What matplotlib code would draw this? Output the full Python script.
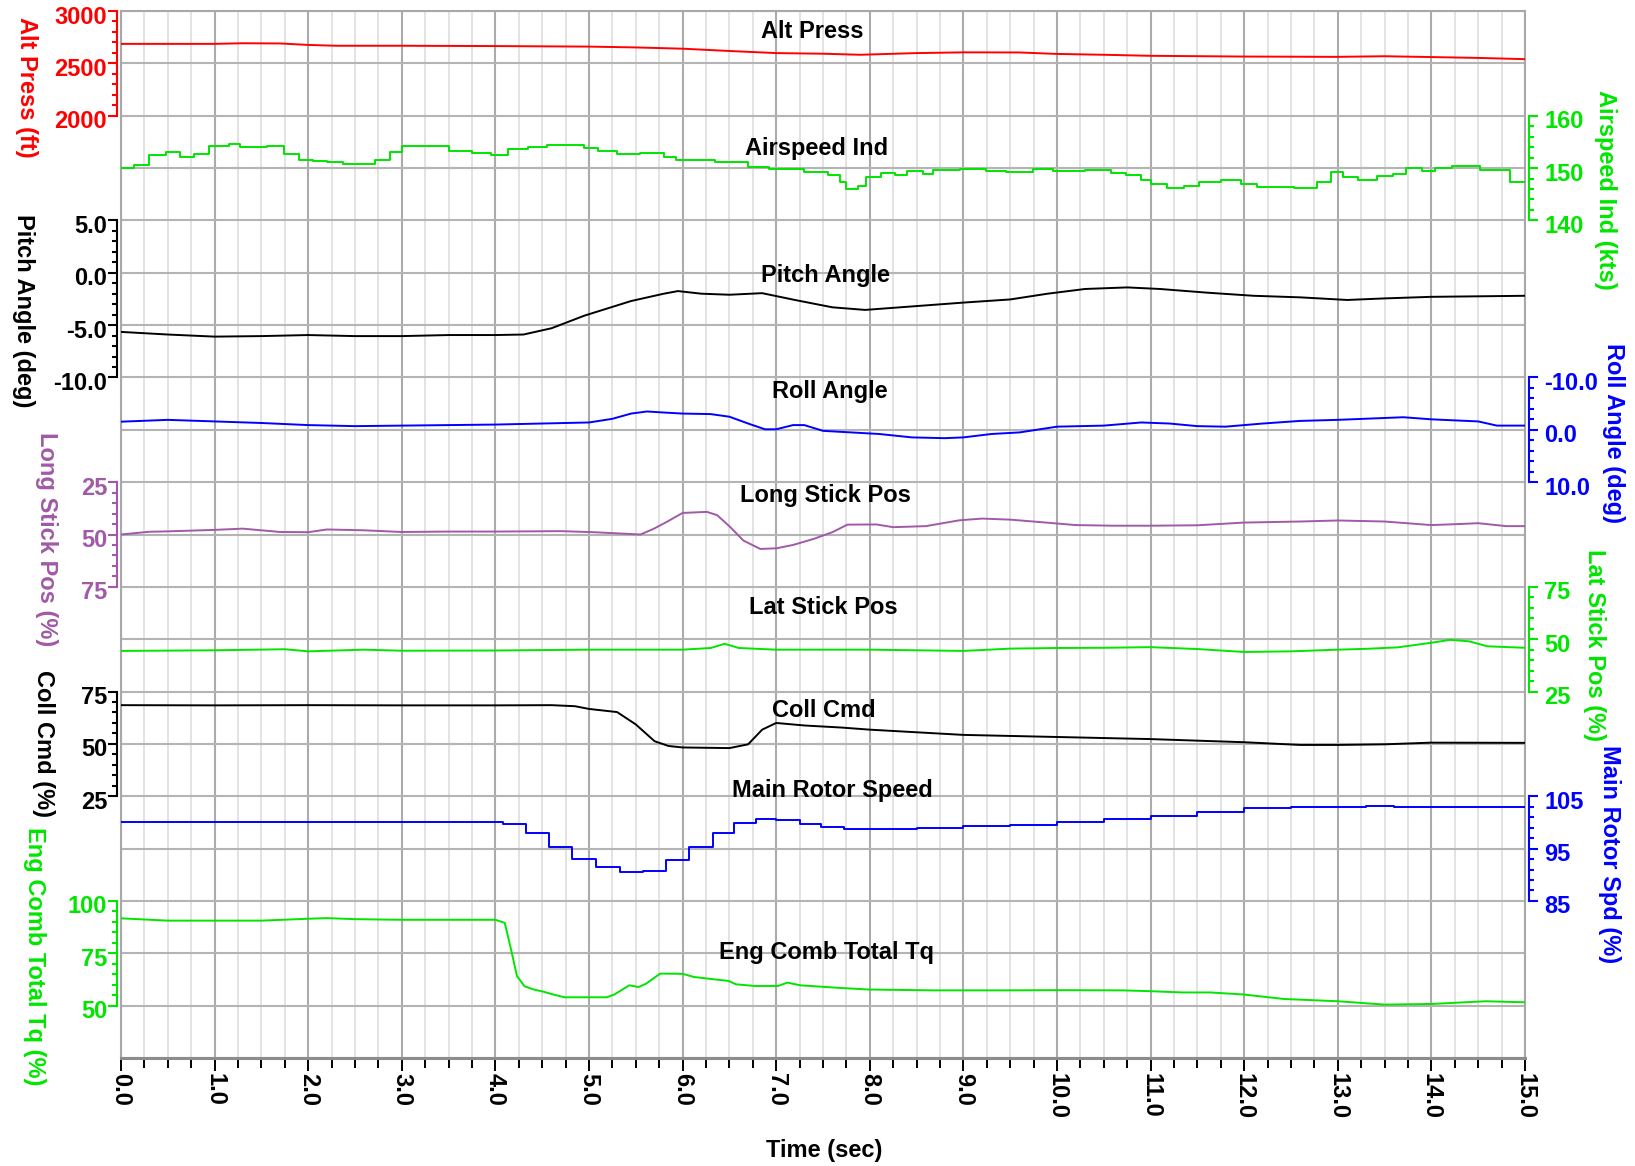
import numpy as np
import matplotlib
matplotlib.use("Agg")
import matplotlib.pyplot as plt
from matplotlib.transforms import offset_copy

plt.rcParams['font.family'] = ['Liberation Sans', 'DejaVu Sans']
plt.rcParams['font.weight'] = 'bold'
plt.rcParams['axes.unicode_minus'] = False

# ---- flight test time histories (time in sec) ----
alt_t = [0, 1.0, 1.3, 1.7, 2.0, 2.3, 3.0, 4.0, 5.0, 5.5, 6.0, 6.5, 7.0, 7.5, 7.9, 8.5,
         9.0, 9.6, 10.0, 10.5, 11.0, 12.0, 13.0, 13.5, 14.0, 14.5, 15.0]
alt_ft = [2686, 2686, 2692, 2690, 2676, 2668, 2668, 2665, 2660, 2652, 2640, 2618, 2598,
          2592, 2582, 2598, 2605, 2604, 2590, 2582, 2572, 2565, 2562, 2568, 2560, 2552, 2540]

# indicated airspeed is a sampled (stepped) signal
ias_t = [0.00, 0.14, 0.30, 0.48, 0.63, 0.78, 0.94, 1.15, 1.27, 1.56, 1.74, 1.90, 2.05,
         2.20, 2.37, 2.71, 2.87, 3.00, 3.50, 3.75, 3.95, 4.13, 4.35, 4.55, 4.95, 5.10,
         5.30, 5.55, 5.80, 5.93, 6.35, 6.70, 6.92, 7.30, 7.55, 7.68, 7.75, 7.87, 7.96,
         8.12, 8.27, 8.40, 8.57, 8.68, 8.96, 9.24, 9.46, 9.74, 9.96, 10.30, 10.58, 10.74,
         10.90, 11.00, 11.17, 11.36, 11.52, 11.75, 11.97, 12.14, 12.53, 12.78, 12.93,
         13.06, 13.22, 13.42, 13.59, 13.73, 13.90, 14.04, 14.22, 14.52, 14.84, 15.00]
ias_kts = [150.0, 150.6, 152.5, 153.1, 152.1, 152.7, 154.2, 154.6, 154.0, 154.2, 152.7,
           151.6, 151.4, 151.1, 150.8, 151.6, 153.1, 154.2, 153.2, 152.8, 152.4, 153.6,
           154.0, 154.4, 153.8, 153.2, 152.6, 152.8, 152.2, 151.6, 151.2, 150.2, 149.8,
           149.2, 148.6, 147.4, 146.0, 146.6, 148.2, 149.0, 148.6, 149.4, 148.8, 149.6,
           149.8, 149.4, 149.2, 149.8, 149.4, 149.6, 149.0, 148.6, 147.8, 147.0, 146.2,
           146.6, 147.4, 147.8, 147.0, 146.4, 146.2, 147.4, 149.3, 148.2, 147.7, 148.5,
           148.9, 150.1, 149.5, 150.1, 150.3, 149.6, 147.3, 147.3]

pitch_t = [0, 0.5, 1.0, 1.5, 2.0, 2.5, 3.0, 3.5, 4.0, 4.3, 4.6, 4.95, 5.45, 5.8, 5.95,
           6.2, 6.5, 6.85, 7.2, 7.6, 7.95, 8.4, 9.0, 9.5, 9.9, 10.3, 10.75, 11.1, 11.6,
           12.1, 12.6, 13.1, 13.5, 14.0, 14.5, 15.0]
pitch_deg = [-5.65, -5.9, -6.1, -6.05, -5.95, -6.05, -6.05, -5.95, -5.95, -5.9, -5.3,
             -4.1, -2.7, -2.0, -1.75, -2.0, -2.1, -1.95, -2.6, -3.3, -3.55, -3.25, -2.85,
             -2.55, -2.0, -1.55, -1.4, -1.55, -1.9, -2.2, -2.35, -2.6, -2.45, -2.3, -2.25,
             -2.2]

roll_t = [0, 0.5, 1.0, 1.5, 2.0, 2.5, 3.0, 3.5, 4.0, 4.5, 5.0, 5.25, 5.45, 5.62, 5.8,
          6.0, 6.3, 6.5, 6.7, 6.88, 7.0, 7.18, 7.3, 7.5, 7.8, 8.1, 8.45, 8.8, 9.0, 9.3,
          9.6, 10.0, 10.5, 10.9, 11.2, 11.5, 11.8, 12.2, 12.6, 13.0, 13.7, 14.0, 14.5,
          14.7, 15.0]
roll_deg = [-1.55, -1.9, -1.6, -1.3, -0.9, -0.7, -0.8, -0.9, -1.0, -1.2, -1.4, -2.1,
            -3.1, -3.5, -3.3, -3.1, -3.0, -2.5, -1.2, -0.1, -0.1, -0.9, -0.9, 0.2, 0.5,
            0.8, 1.45, 1.6, 1.45, 0.8, 0.5, -0.6, -0.8, -1.4, -1.2, -0.7, -0.6, -1.2,
            -1.7, -1.9, -2.4, -2.0, -1.6, -0.8, -0.8]

lon_t = [0, 0.3, 0.5, 1.0, 1.3, 1.7, 2.0, 2.2, 2.6, 3.0, 3.5, 4.0, 4.7, 5.05, 5.55,
         5.69, 5.83, 6.0, 6.26, 6.37, 6.51, 6.65, 6.83, 7.0, 7.18, 7.4, 7.6, 7.76, 8.07,
         8.25, 8.6, 8.96, 9.2, 9.5, 9.8, 10.2, 10.6, 11.0, 11.5, 12.0, 12.6, 13.0, 13.5,
         14.0, 14.3, 14.5, 14.8, 15.0]
lon_pct = [50.0, 48.7, 48.5, 47.8, 47.2, 48.8, 48.9, 47.6, 48.0, 48.8, 48.6, 48.6, 48.4,
           48.9, 50.0, 47.3, 44.0, 39.7, 39.2, 40.8, 46.5, 52.9, 56.9, 56.6, 55.0, 52.1,
           48.9, 45.3, 45.2, 46.5, 46.0, 43.2, 42.4, 42.9, 44.0, 45.5, 45.8, 45.8, 45.6,
           44.3, 43.8, 43.3, 43.8, 45.5, 45.0, 44.6, 46.0, 46.0]

lat_t = [0, 1.0, 1.75, 2.0, 2.6, 3.0, 4.0, 5.0, 6.0, 6.3, 6.45, 6.6, 7.0, 8.0, 9.0, 9.5,
         10.0, 10.5, 11.0, 11.5, 12.0, 12.5, 13.0, 13.3, 13.64, 14.0, 14.2, 14.4, 14.6,
         15.0]
lat_pct = [44.4, 44.7, 45.2, 44.2, 45.0, 44.5, 44.6, 45.0, 45.0, 45.8, 47.8, 45.8, 45.0,
           45.0, 44.4, 45.5, 45.8, 45.9, 46.2, 45.3, 43.9, 44.2, 45.0, 45.4, 46.1, 48.3,
           49.7, 49.0, 46.6, 45.9]

coll_t = [0, 1, 2, 3, 4, 4.6, 4.85, 5.0, 5.3, 5.5, 5.7, 5.85, 6.0, 6.5, 6.7, 6.85, 7.0,
          7.3, 7.7, 8.0, 9.0, 10.0, 11.0, 12.0, 12.6, 13.0, 13.5, 14.0, 15.0]
coll_pct = [68.5, 68.4, 68.5, 68.4, 68.4, 68.5, 68.0, 66.7, 65.2, 59.3, 51.3, 49.0, 48.3,
            48.0, 49.8, 56.8, 60.0, 58.8, 57.8, 56.8, 54.3, 53.3, 52.3, 50.8, 49.5, 49.5,
            49.8, 50.6, 50.5]

# rotor speed is also a stepped signal
nr_t = [0, 4.08, 4.33, 4.57, 4.82, 5.07, 5.33, 5.58, 5.82, 6.07, 6.32, 6.55, 6.78, 7.0,
        7.25, 7.48, 7.72, 8.5, 9.0, 9.5, 10.0, 10.5, 11.0, 11.5, 12.0, 12.5, 13.0, 13.3,
        13.6, 15.0]
nr_pct = [100.1, 99.7, 97.9, 95.4, 93.1, 91.4, 90.5, 90.75, 92.75, 95.25, 98.0, 99.9,
          100.6, 100.5, 99.75, 99.1, 98.75, 98.85, 99.3, 99.6, 100.1, 100.7, 101.3, 101.9,
          102.7, 102.9, 103.0, 103.2, 103.0, 103.0]

tq_t = [0, 0.5, 1.0, 1.5, 2.0, 2.2, 2.5, 3.0, 3.5, 4.0, 4.1, 4.17, 4.23, 4.31, 4.41,
        4.52, 4.62, 4.74, 5.19, 5.27, 5.43, 5.53, 5.61, 5.76, 6.0, 6.12, 6.33, 6.49, 6.57,
        6.77, 7.02, 7.12, 7.26, 7.67, 7.99, 8.68, 9.09, 9.4, 10.0, 10.7, 11.0, 11.34,
        11.64, 12.0, 12.42, 13.0, 13.5, 14.0, 14.58, 15.0]
tq_pct = [91.7, 90.6, 90.6, 90.6, 91.5, 91.8, 91.3, 91.0, 91.0, 91.0, 89.5, 76.3, 64.2,
          59.3, 57.7, 56.6, 55.3, 54.0, 54.0, 55.3, 59.7, 58.9, 60.5, 65.3, 65.2, 63.7,
          62.6, 61.8, 60.2, 59.4, 59.4, 61.0, 59.7, 58.5, 57.7, 57.3, 57.3, 57.3, 57.4,
          57.3, 56.9, 56.3, 56.3, 55.3, 53.2, 52.1, 50.5, 50.8, 52.1, 51.6]

RED = '#ff0000'
GREEN = '#00e600'
BLUE = '#0000ff'
PURPLE = '#a05aa6'
BLACK = '#000000'
FS = 17

W, H = 1635, 1166
L, R, T, B = 121, 1525, 11, 1058
N_ROWS = 20

fig = plt.figure(figsize=(W / 100, H / 100), dpi=100)
rect = [L / W, 1 - B / H, (R - L) / W, (B - T) / H]

# base axes: grid, time axis and strip titles (y in grid rows, 0 at top)
ax = fig.add_axes(rect)
ax.set_xlim(0, 15)
ax.set_ylim(N_ROWS, 0)
ax.set_yticks(np.arange(0, N_ROWS + 1))
ax.tick_params(axis='y', left=False, labelleft=False)
ax.set_xticks(np.arange(0, 16))
ax.set_xticklabels(['%.1f' % v for v in range(16)], rotation=270, fontsize=FS)
ax.set_xticks(np.arange(0, 15.01, 0.25), minor=True)
ax.tick_params(axis='x', which='major', length=9, width=1.4, color='black', pad=2)
ax.tick_params(axis='x', which='minor', length=7, width=1.4, color='black')
ax.grid(axis='x', which='minor', color='#e0e0e0', lw=1.3)
ax.grid(axis='x', which='major', color='#ababab', lw=1.5)
ax.grid(axis='y', which='major', color='#b4b4b4', lw=1.5)
for s in ['left', 'right', 'top']:
    ax.spines[s].set_color('#a8a8a8')
    ax.spines[s].set_linewidth(1.5)
ax.spines['bottom'].set_color('#8c8c8c')
ax.spines['bottom'].set_linewidth(2.2)

titles = ['Alt Press', 'Airspeed Ind', 'Pitch Angle', 'Roll Angle', 'Long Stick Pos',
          'Lat Stick Pos', 'Coll Cmd', 'Main Rotor Speed', 'Eng Comb Total Tq']
title_x = [7.39, 7.43, 7.53, 7.57, 7.53, 7.50, 7.51, 7.60, 7.54]
title_row = [0.40, 2.62, 5.06, 7.26, 9.25, 11.39, 13.37, 14.89, 17.98]
for name, tx, tr in zip(titles, title_x, title_row):
    ax.text(tx, tr, name, ha='center', va='center', fontsize=FS, fontweight='bold')


def add_channel(t, v, color, side, top, bot, ticks, minor, fmt, steps=False):
    """Overlay one signal on its own y scale; top/bot are (value, grid row)."""
    sax = fig.add_axes(rect)
    sax.patch.set_visible(False)
    sax.set_xlim(0, 15)
    slope = (bot[0] - top[0]) / (bot[1] - top[1])
    sax.set_ylim(top[0] + (N_ROWS - top[1]) * slope, top[0] - top[1] * slope)
    sax.xaxis.set_visible(False)
    for s in sax.spines.values():
        s.set_visible(False)
    sp = sax.spines[side]
    sp.set_visible(True)
    sp.set_position(('outward', 3))
    sp.set_bounds(min(ticks), max(ticks))
    sp.set_color(color)
    sp.set_linewidth(1.5)
    if side == 'right':
        sax.yaxis.tick_right()
    sax.set_yticks(ticks)
    sax.set_yticks(np.arange(min(ticks), max(ticks) + minor / 2, minor), minor=True)
    sax.tick_params(axis='y', which='both', color=color, width=1.5, direction='out',
                    labelleft=False, labelright=False)
    sax.tick_params(axis='y', which='major', length=6.5)
    sax.tick_params(axis='y', which='minor', length=3.5)
    dx = -14 if side == 'left' else 19
    trans = offset_copy(sax.get_yaxis_transform(), fig=fig, x=dx, y=-6, units='dots')
    for tk in ticks:
        sax.text(0 if side == 'left' else 1, tk, fmt % tk, transform=trans,
                 ha='right' if side == 'left' else 'left', va='center',
                 color=color, fontsize=FS, fontweight='bold')
    sax.plot(t, v, color=color, lw=1.4, drawstyle='steps-post' if steps else 'default')
    return sax


add_channel(alt_t, alt_ft, RED, 'left', (3000, 0), (2000, 2), [2000, 2500, 3000], 100, '%d')
add_channel(ias_t, ias_kts, GREEN, 'right', (160, 2), (140, 4), [140, 150, 160], 2, '%d',
            steps=True)
add_channel(pitch_t, pitch_deg, BLACK, 'left', (5, 4), (-10, 7), [-10, -5, 0, 5], 1, '%.1f')
add_channel(roll_t, roll_deg, BLUE, 'right', (-10, 7), (10, 9), [-10, 0, 10], 2, '%.1f')
add_channel(lon_t, lon_pct, PURPLE, 'left', (25, 9), (75, 11), [25, 50, 75], 5, '%d')
add_channel(lat_t, lat_pct, GREEN, 'right', (75, 11), (25, 13), [25, 50, 75], 5, '%d')
add_channel(coll_t, coll_pct, BLACK, 'left', (75, 13), (25, 15), [25, 50, 75], 5, '%d')
add_channel(nr_t, nr_pct, BLUE, 'right', (105, 15), (85, 17), [85, 95, 105], 2, '%d',
            steps=True)
add_channel(tq_t, tq_pct, GREEN, 'left', (100, 17), (50, 19), [50, 75, 100], 5, '%d')

# axis titles, written top to bottom beside each scale
ylabels = [('Alt Press (ft)', RED, 26, 87), ('Pitch Angle (deg)', BLACK, 23, 311),
           ('Long Stick Pos (%)', PURPLE, 46, 539), ('Coll Cmd (%)', BLACK, 43, 743),
           ('Eng Comb Total Tq (%)', GREEN, 34, 956),
           ('Airspeed Ind (kts)', GREEN, 1605, 190), ('Roll Angle (deg)', BLUE, 1613, 433),
           ('Lat Stick Pos (%)', GREEN, 1594, 645), ('Main Rotor Spd (%)', BLUE, 1609, 854)]
for text, color, px, py in ylabels:
    fig.text(px / W, 1 - py / H, text, rotation=270, ha='center', va='center',
             color=color, fontsize=FS, fontweight='bold')

fig.text(824 / W, 1 - 1150 / H, 'Time (sec)', ha='center', va='center', fontsize=FS,
         fontweight='bold')

fig.savefig('out.png', dpi=100)
